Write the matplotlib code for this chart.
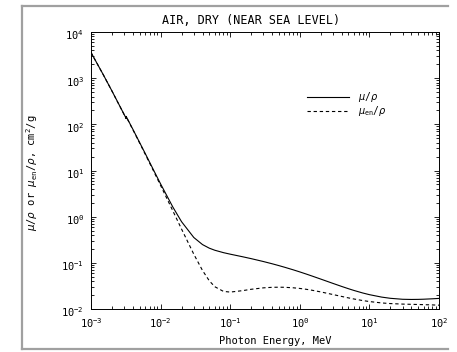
import numpy as np
import matplotlib.pyplot as plt
import matplotlib.transforms as mtransforms
from matplotlib.lines import Line2D

# Air, dry (near sea level) - photon energy in MeV, coefficients in cm2/g
energy = [1.0e-3, 1.5e-3, 2.0e-3, 3.0e-3, 3.2e-3, 3.2e-3, 4.0e-3, 5.0e-3, 6.0e-3,
          8.0e-3, 1.0e-2, 1.5e-2, 2.0e-2, 3.0e-2, 4.0e-2, 5.0e-2, 6.0e-2, 8.0e-2,
          1.0e-1, 1.5e-1, 2.0e-1, 3.0e-1, 4.0e-1, 5.0e-1, 6.0e-1, 8.0e-1, 1.0,
          1.25, 1.5, 2.0, 3.0, 4.0, 5.0, 6.0, 8.0, 10.0, 15.0, 20.0, 30.0, 40.0,
          50.0, 60.0, 80.0, 100.0]
mu_rho = [3606, 1191, 527.9, 162.5, 134.0, 148.5, 77.88, 40.27, 23.51,
          9.921, 5.120, 1.614, 0.7779, 0.3538, 0.2485, 0.2080, 0.1875, 0.1662,
          0.1541, 0.1356, 0.1233, 0.1067, 0.09549, 0.08712, 0.08055, 0.07074, 0.06358,
          0.05687, 0.05175, 0.04447, 0.03581, 0.03079, 0.02751, 0.02522, 0.02225, 0.02045,
          0.01810, 0.01705, 0.01624, 0.01610, 0.01616, 0.01629, 0.01663, 0.01695]
muen_rho = [3599, 1188, 526.2, 161.4, 133.0, 146.0, 76.36, 39.31, 22.70,
            9.446, 4.742, 1.334, 0.5389, 0.1537, 0.06833, 0.04098, 0.03041, 0.02407,
            0.02325, 0.02496, 0.02672, 0.02872, 0.02949, 0.02966, 0.02953, 0.02882, 0.02789,
            0.02666, 0.02547, 0.02345, 0.02057, 0.01870, 0.01740, 0.01647, 0.01525, 0.01450,
            0.01353, 0.01311, 0.01277, 0.01262, 0.01252, 0.01242, 0.01226, 0.01210]

plt.rcParams['font.family'] = 'DejaVu Sans Mono'
plt.rcParams['mathtext.default'] = 'regular'

fig = plt.figure(figsize=(4.57, 3.52), dpi=100)
ax = fig.add_axes([91/457, 1 - 309/352, 348/457, 277/352])

ax.plot(energy, mu_rho, color='black', lw=0.8, label=r'$\mathit{\mu}/\mathit{\rho}$')
ax.plot(energy, muen_rho, color='black', lw=0.8, ls=(0, (3, 2.5)),
        label=r'$\mathit{\mu}_{en}/\mathit{\rho}$')

ax.set_xscale('log')
ax.set_yscale('log')
ax.set_xlim(1e-3, 1e2)
ax.set_ylim(1e-2, 1e4)
ax.tick_params(which='both', direction='in', top=True, right=True,
               labelsize=7.5, width=0.6, colors='black')
ax.tick_params(which='major', length=3.5, pad=5)
ax.tick_params(which='minor', length=2)
ax.yaxis.set_major_locator(plt.LogLocator(base=10, numticks=10))
ax.yaxis.set_minor_locator(plt.LogLocator(base=10, subs=np.arange(2, 10), numticks=10))
# y tick labels sit a little below their ticks in the reference
shift = mtransforms.ScaledTranslation(0, -2.5/100, fig.dpi_scale_trans)
for lbl in ax.get_yticklabels():
    lbl.set_transform(lbl.get_transform() + shift)
for s in ax.spines.values():
    s.set_linewidth(0.7)

fig.text(251/457, 1 - 20/352, 'AIR, DRY (NEAR SEA LEVEL)', fontsize=8.5,
         ha='center', va='center')
ax.set_xlabel('Photon Energy, MeV', fontsize=7.5)
ax.xaxis.set_label_coords((275 - 91)/348, -(336 - 309)/277)
ax.set_ylabel(r'$\mathit{\mu}/\mathit{\rho}$ or $\mathit{\mu}_{en}/\mathit{\rho}$, cm$^2$/g',
              fontsize=7.5)
ax.yaxis.set_label_coords(-(91 - 40)/348, (309 - 173)/277)

ax.legend(loc='upper left', bbox_to_anchor=(0.62, 0.79), frameon=False,
          fontsize=7, handlelength=4.3, handletextpad=1.0, labelspacing=0.0,
          borderpad=0, borderaxespad=0)

# grey frame around the figure (top, left, bottom)
frame = dict(color='#a0a0a0', lw=1.6, transform=fig.transFigure, clip_on=False)
fig.add_artist(Line2D([22/457, 448/457], [1 - 6/352, 1 - 6/352], **frame))
fig.add_artist(Line2D([22/457, 22/457], [1 - 6/352, 1 - 349/352], **frame))
fig.add_artist(Line2D([22/457, 448/457], [1 - 349/352, 1 - 349/352], **frame))

fig.savefig('out.png', dpi=100)
